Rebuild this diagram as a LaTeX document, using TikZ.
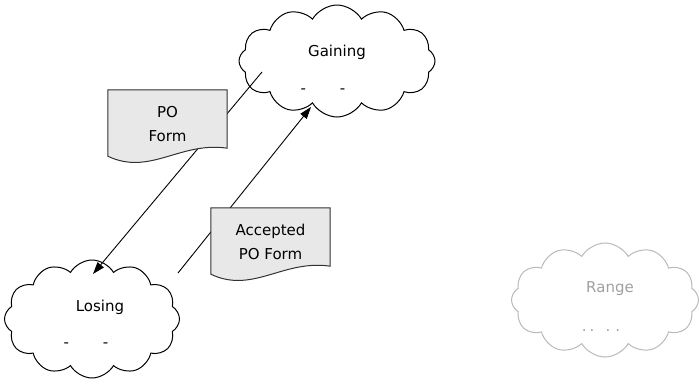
\documentclass[tikz,border=0pt]{standalone}
\usepackage{fontspec}
\setmainfont{DejaVu Sans}
\usepackage{tikz}
\usetikzlibrary{arrows.meta,shapes.symbols,calc}
\definecolor{docfill}{RGB}{232,232,232}
\definecolor{docline}{RGB}{50,50,50}
\definecolor{rangeline}{RGB}{185,185,185}
\definecolor{rangetext}{RGB}{160,160,160}

%% paper with a wavy lower edge, drawn round a named node
\newcommand{\docshape}[1]{%
\filldraw[fill=docfill,draw=docline,line width=1pt](#1.north west)--(#1.north east)--(#1.south east)
 .. controls +(-47,-7) and +(42,20) .. ([yshift=-8pt]#1.south west)--cycle;}

\begin{document}
\begin{tikzpicture}[x=1pt,y=-1pt,>={Triangle[length=12pt,width=8pt]},
cloudbox/.style={cloud,cloud puffs=12,cloud puff arc=120,cloud ignores aspect,draw,line width=1pt,inner sep=0pt},
labeltext/.style={font=\fontsize{15}{18}\selectfont,inner sep=0pt,text height=11pt,text depth=3pt},
docbox/.style={minimum width=119pt,minimum height=58pt,inner sep=0pt},
doctext/.style={align=center,inner sep=0pt,font=\fontsize{15}{24}\selectfont},
flow/.style={->,line width=0.9pt}]
\useasboundingbox(0,0)rectangle(699,383);
%% clouds
\node[cloudbox,minimum width=196pt,minimum height=112pt](gaining)at(337,61){};
\node[cloudbox,minimum width=175pt,minimum height=118pt](losing)at(92,319){};
\node[cloudbox,draw=rangeline,minimum width=187pt,minimum height=114pt](range)at(605,300){};
\node[labeltext](gainingname)at([yshift=9pt]gaining.center){Gaining};
\node[labeltext](gainingdash)at([xshift=-14pt,yshift=-28pt]gaining.center){-\hspace{34pt}-};
\node[labeltext](losingname)at([xshift=8pt,yshift=12pt]losing.center){Losing};
\node[labeltext](losingdash)at([xshift=-6pt,yshift=-24pt]losing.center){-\hspace{34pt}-};
\node[labeltext,text=rangetext](rangename)at([xshift=5pt,yshift=12pt]range.center){Range};
\node[labeltext,text=rangetext](rangedots)at([xshift=-4pt,yshift=-27pt]range.center){.\hspace{3pt}.\hspace{11pt}.\hspace{5pt}.};
%% connectors
\draw[flow]($(gaining.center)+(-75,11)$)--($(losing.center)+(1,-45)$);
\draw[flow]($(losing.center)+(86,-46)$)--($(gaining.center)+(-26,46)$);
%% documents
\node[docbox](poform)at(167.5,119){};
\docshape{poform}
\node[doctext](poformtext)at([yshift=-5pt]poform.center){PO\\Form};
\node[docbox](accepted)at(270.5,237){};
\docshape{accepted}
\node[doctext](acceptedtext)at([yshift=-5pt]accepted.center){Accepted\\PO Form};
\end{tikzpicture}
\end{document}
